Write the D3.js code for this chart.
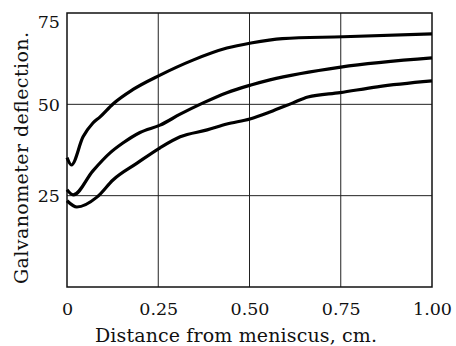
<!DOCTYPE html>
<html><head><meta charset="utf-8">
<script src="https://cdn.jsdelivr.net/npm/d3@7"></script>
<style>body{margin:0;background:#fff}svg{display:block}text{font-family:"DejaVu Serif",serif;fill:#111}</style>
</head><body>
<script>
const xTicks = [0, 0.25, 0.5, 0.75, 1.0];
const xTickLabels = ["0", "0.25", "0.50", "0.75", "1.00"];
const yTicks = [25, 50, 75];
const yTickLabels = ["25", "50", "75"];
const topX = [0, 0.012, 0.044, 0.071, 0.09, 0.126, 0.18, 0.255, 0.345, 0.438, 0.504, 0.59, 0.756, 1.0];
const topY = [35.4, 33.4, 41.1, 44.9, 46.5, 50.1, 54.0, 58.0, 62.1, 65.4, 66.8, 68.0, 68.5, 69.3];
const midX = [0, 0.017, 0.071, 0.118, 0.153, 0.2, 0.255, 0.31, 0.373, 0.438, 0.504, 0.556, 0.75, 1.0];
const midY = [26.6, 25.2, 31.8, 36.7, 39.4, 42.3, 44.3, 47.3, 50.4, 53.2, 55.3, 56.7, 60.2, 62.7];
const botX = [0, 0.027, 0.082, 0.126, 0.192, 0.255, 0.31, 0.384, 0.438, 0.501, 0.556, 0.619, 0.66, 0.748, 0.85, 1.0];
const botY = [23.6, 21.9, 24.6, 29.3, 33.9, 38.1, 41.1, 43.0, 44.6, 46.0, 47.9, 50.4, 52.0, 53.2, 54.8, 56.4];

const W = 456, H = 346;
const m = {l: 67, r: 24, t: 13, b: 59};
const svg = d3.select("body").append("svg").attr("width", W).attr("height", H);
const x = d3.scaleLinear().domain([0, 1]).range([m.l, W - m.r]);
const y = d3.scaleLinear().domain([0, 75]).range([H - m.b, m.t]);

// grid
svg.append("g").selectAll("line").data(xTicks.slice(1, -1)).join("line")
  .attr("x1", d => x(d)).attr("x2", d => x(d)).attr("y1", y(0)).attr("y2", y(75))
  .attr("stroke", "#222").attr("stroke-width", 1);
svg.append("g").selectAll("line").data(yTicks.slice(0, -1)).join("line")
  .attr("x1", x(0)).attr("x2", x(1)).attr("y1", d => y(d)).attr("y2", d => y(d))
  .attr("stroke", "#222").attr("stroke-width", 1);
svg.append("rect").attr("x", x(0)).attr("y", y(75)).attr("width", x(1) - x(0)).attr("height", y(0) - y(75))
  .attr("fill", "none").attr("stroke", "#111").attr("stroke-width", 1.5);

// axes labels
const xAxis = d3.axisBottom(x).tickValues(xTicks).tickFormat((d, i) => xTickLabels[i]).tickSize(0).tickPadding(16);
const gx = svg.append("g").attr("transform", `translate(0,${y(0)})`).call(xAxis);
gx.select(".domain").remove();
gx.selectAll("text").attr("font-size", 17.5).style("font-family", "DejaVu Serif, serif").attr("fill", "#111");
const yAxis = d3.axisLeft(y).tickValues(yTicks).tickFormat((d, i) => yTickLabels[i]).tickSize(0).tickPadding(7);
const gy = svg.append("g").attr("transform", `translate(${x(0)},0)`).call(yAxis);
gy.select(".domain").remove();
gy.selectAll("text").attr("font-size", 17.5).style("font-family", "DejaVu Serif, serif").attr("fill", "#111")
  .attr("dy", d => d === 75 ? "0.85em" : "0.35em");

svg.append("text").attr("x", 236).attr("y", 342).attr("text-anchor", "middle")
  .attr("font-size", 19).attr("textLength", 282).attr("lengthAdjust", "spacing")
  .text("Distance from meniscus, cm.");
svg.append("text").attr("transform", `translate(28,158) rotate(-90)`).attr("text-anchor", "middle")
  .attr("font-size", 19).attr("textLength", 252).attr("lengthAdjust", "spacing")
  .text("Galvanometer deflection.");

const line = d3.line().x(d => x(d[0])).y(d => y(d[1])).curve(d3.curveMonotoneX);
[[topX, topY], [midX, midY], [botX, botY]].forEach(([xs, ys]) => {
  svg.append("path").datum(xs.map((v, i) => [v, ys[i]])).attr("d", line)
    .attr("fill", "none").attr("stroke", "#000").attr("stroke-width", 3.2).attr("stroke-linejoin", "round");
});
</script>
</body></html>
